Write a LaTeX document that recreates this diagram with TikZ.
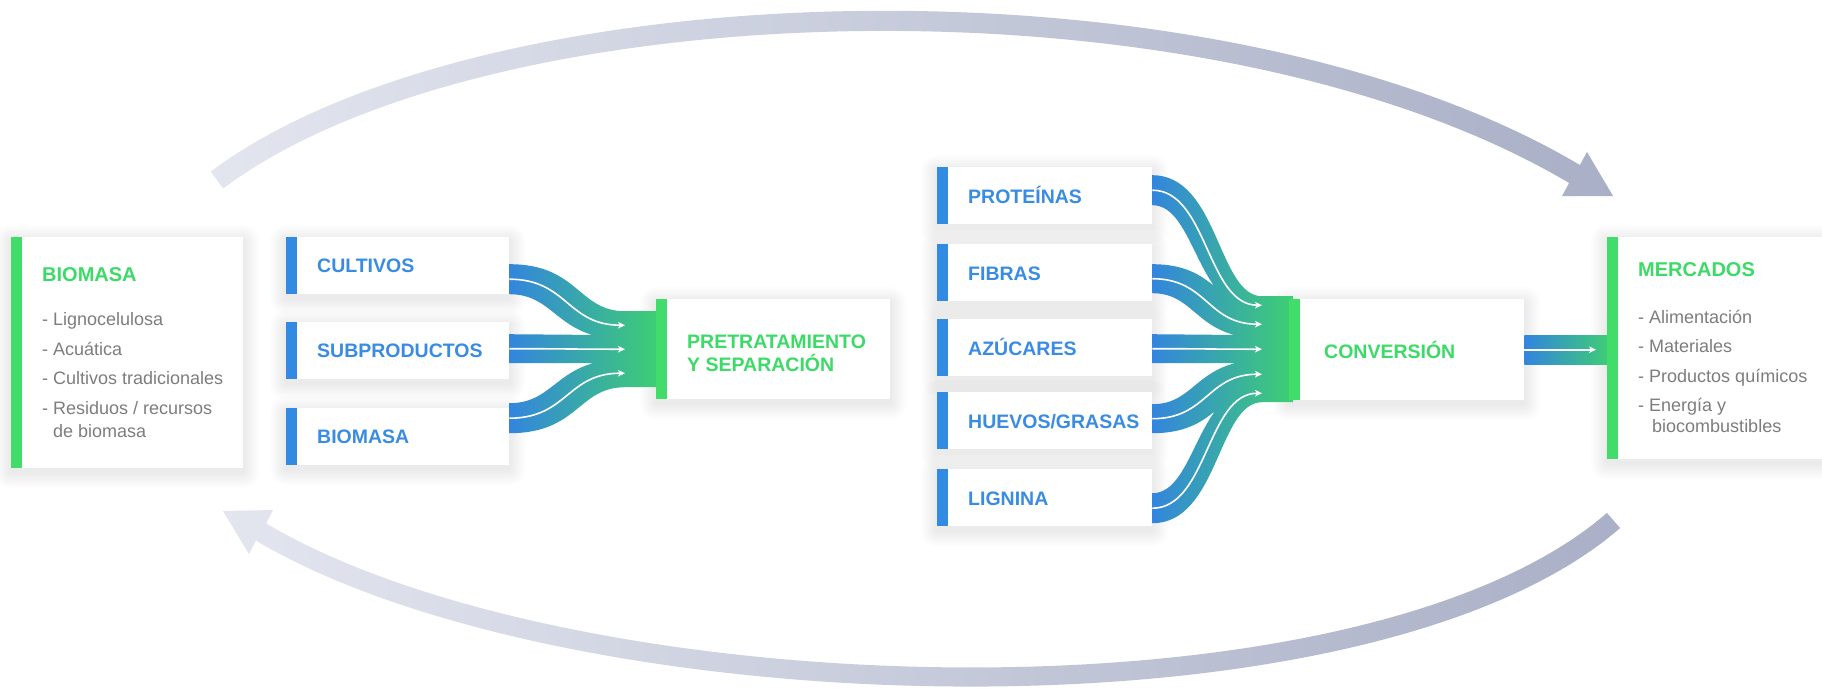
\documentclass[tikz,border=0pt]{standalone}
\usepackage{fontspec}
\setmainfont{Liberation Sans}
\usetikzlibrary{arrows.meta,calc,backgrounds}

\definecolor{flowblue}{HTML}{3385DD}
\definecolor{flowgreen}{HTML}{3ECF72}
\definecolor{barblue}{HTML}{338AE3}
\definecolor{bargreen}{HTML}{41DC69}
\definecolor{labelblue}{HTML}{398CE2}
\definecolor{titlegreen}{HTML}{3CDA67}
\definecolor{listgray}{HTML}{7D7D7D}
\definecolor{cyclelight}{HTML}{E3E6EF}
\definecolor{cycledark}{HTML}{A9AFC6}

\tikzset{
  card/.style={rectangle, fill=white, draw=none, inner sep=0pt, anchor=north west},
  shadowlayer/.style={black, opacity=0.009},
  boldlabel/.style={inner sep=0pt, anchor=west, text height=14pt, text depth=0pt,
    font=\fontsize{19.5}{23}\selectfont\bfseries},
  srclabel/.style={boldlabel, text=labelblue},
  steplabel/.style={boldlabel, text=titlegreen},
  cardtitle/.style={inner sep=0pt, anchor=base west, text=titlegreen,
    font=\fontsize{20}{24}\selectfont\bfseries},
  itemlist/.style={inner sep=0pt, anchor=north west, align=left, text=listgray},
  whiteflow/.style={draw=white, line width=1.6pt,
    -{Stealth[length=7pt,width=6.5pt,inset=2pt]}},
}

% soft drop shadow under a card, built from stacked translucent rectangles
\newcommand\softshadow[1]{%
  \foreach \k [evaluate=\k as \r using \k*1.6] in {1,...,10}{%
    \fill[shadowlayer, rounded corners=\r pt]
      ($(#1.north west)+({-\r},{-\r+4})$) rectangle ($(#1.south east)+({\r},{\r+4})$);
  }%
}

% coloured strip on the left side of a card
\newcommand\cardbar[2]{\fill[#2] (#1.north west) rectangle ($(#1.south west)+(11,0)$);}

% end points of one flow band: prefix, source card, top/bottom offsets,
% target card, top/bottom offsets at the merge, x offset of the merge
\newcommand\flowends[8]{%
  \coordinate (#1-st) at ($(#2.east)+(0,#3)$);
  \coordinate (#1-sb) at ($(#2.east)+(0,#4)$);
  \coordinate (#1-et) at ($(#5.west)+(#8,#6)$);
  \coordinate (#1-eb) at ($(#5.west)+(#8,#7)$);
  \coordinate (#1-s) at ($(#1-st)!.5!(#1-sb)$);
  \coordinate (#1-e) at ($(#1-et)!.5!(#1-eb)$);
}

% outline of one band: prefix, bar coordinate, half run, control shift
\newcommand\bandshape[4]{%
  (#1-st) .. controls +({#3+(#4)},0) and +({-#3+(#4)},0) .. (#1-et)
  -- (#1-et -| #2) -- (#1-eb -| #2) -- (#1-eb)
  .. controls +({-#3-(#4)},0) and +({#3-(#4)},0) .. (#1-sb) -- cycle
}

\begin{document}
\begin{tikzpicture}[x=1pt, y=-1pt]
\useasboundingbox (0,0) rectangle (1822,689);
\begin{pgfonlayer}{background}
  \fill[white] (0,0) rectangle (1822,689);
\end{pgfonlayer}

% ---- cycle arrows -------------------------------------------------------
\begin{scope}
  \clip (210.7,171.6) .. controls (481.1,-31.2) and (1214.3,-51.8) .. (1579.9,165.0)
        -- (1587,152) -- (1613,196) -- (1562,196) -- (1569.1,183.0)
        .. controls (1208.8,-30.6) and (488.3,-10.4) .. (223.3,188.4) -- cycle;
  \shade[left color=cyclelight, right color=cycledark] (205,0) rectangle (1616,200);
\end{scope}
\begin{scope}[shift={(1836,707)}, scale=-1]
  \clip (215.95,178.94) .. controls (471.9,-42.8) and (1269.7,-17.7) .. (1580.1,166.4)
        -- (1587,153) -- (1613,196) -- (1563,197) -- (1569.9,183.6)
        .. controls (1264.0,2.2) and (479.05,-22.5) .. (229.05,194.06) -- cycle;
  \shade[left color=cyclelight, right color=cycledark] (205,0) rectangle (1616,200);
\end{scope}

% ---- cards ---------------------------------------------------------------
\node[card, minimum width=232pt, minimum height=231pt] (biomasaL) at (11,237) {};
\node[card, minimum width=223pt, minimum height=57pt] (cultivos) at (286,237) {};
\node[card, minimum width=223pt, minimum height=57pt] (subprod) at (286,322) {};
\node[card, minimum width=223pt, minimum height=57pt] (biomasaS) at (286,408) {};
\node[card, minimum width=234pt, minimum height=100pt] (pretrat) at (656,299) {};
\node[card, minimum width=215pt, minimum height=57pt] (proteinas) at (937,167) {};
\node[card, minimum width=215pt, minimum height=57pt] (fibras) at (937,244) {};
\node[card, minimum width=215pt, minimum height=57pt] (azucares) at (937,319) {};
\node[card, minimum width=215pt, minimum height=57pt] (huevos) at (937,392) {};
\node[card, minimum width=215pt, minimum height=57pt] (lignina) at (937,469) {};
\node[card, minimum width=235pt, minimum height=101pt] (conversion) at (1289,299) {};
\node[card, minimum width=232pt, minimum height=222pt] (mercados) at (1607,237) {};

\begin{pgfonlayer}{background}
  \foreach \c in {biomasaL,cultivos,subprod,biomasaS,pretrat,proteinas,fibras,
                  azucares,huevos,lignina,conversion,mercados}{\softshadow{\c}}
\end{pgfonlayer}

% ---- flows into pretreatment ----------------------------------------------
\flowends{cu}{cultivos}{-1.5}{28.5}{pretrat}{-38}{-10}{-31}
\flowends{sp}{subprod}{-16.5}{12.5}{pretrat}{-14}{14}{-31}
\flowends{bm}{biomasaS}{-33.5}{-3.5}{pretrat}{10}{38}{-31}
\coordinate (barL) at ($(pretrat.west)+(4,0)$);
\begin{scope}
  \clip \bandshape{cu}{barL}{58}{11} \bandshape{sp}{barL}{58}{0} \bandshape{bm}{barL}{58}{-11};
  \shade[left color=flowblue, right color=flowgreen]
    (cultivos.north east) rectangle (barL |- biomasaS.south);
\end{scope}
\foreach \f in {cu,sp,bm}
  \draw[whiteflow] (\f-s) .. controls +(58,0) and +(-58,0) .. (\f-e);

% ---- flows into conversion -----------------------------------------------
\flowends{pr}{proteinas}{-20.5}{9.5}{conversion}{-53.5}{-35.5}{-27}
\flowends{fi}{fibras}{-8.5}{20.5}{conversion}{-39.5}{-11.5}{-27}
\flowends{az}{azucares}{-13.5}{15.5}{conversion}{-14.5}{13.5}{-27}
\flowends{hu}{huevos}{-16.5}{12.5}{conversion}{10.5}{38.5}{-27}
\flowends{li}{lignina}{-4.5}{25.5}{conversion}{34.5}{52.5}{-27}
\coordinate (barR) at ($(conversion.west)+(4,0)$);
\begin{scope}
  \clip \bandshape{pr}{barR}{55}{11} \bandshape{fi}{barR}{55}{11}
        \bandshape{az}{barR}{55}{0} \bandshape{hu}{barR}{55}{-11}
        \bandshape{li}{barR}{55}{-11};
  \shade[left color=flowblue, right color=flowgreen]
    (proteinas.north east) rectangle (barR |- lignina.south);
\end{scope}
\foreach \f in {pr,fi,az,hu,li}
  \draw[whiteflow] (\f-s) .. controls +(55,0) and +(-55,0) .. (\f-e);

% ---- flow into markets ---------------------------------------------------
\coordinate (cm-t) at ($(conversion.east)+(0,-14.5)$);
\coordinate (cm-b) at ($(conversion.east -| mercados.west)+(4,14.5)$);
\shade[left color=flowblue, right color=flowgreen] (cm-t) rectangle (cm-b);
\draw[whiteflow] (conversion.east) -- ($(conversion.east -| mercados.west)+(-11,0)$);

% ---- card strips -----------------------------------------------------------
\cardbar{biomasaL}{bargreen}
\cardbar{cultivos}{barblue}
\cardbar{subprod}{barblue}
\cardbar{biomasaS}{barblue}
\cardbar{pretrat}{bargreen}
\cardbar{proteinas}{barblue}
\cardbar{fibras}{barblue}
\cardbar{azucares}{barblue}
\cardbar{huevos}{barblue}
\cardbar{lignina}{barblue}
\cardbar{conversion}{bargreen}
\cardbar{mercados}{bargreen}

% ---- texts -----------------------------------------------------------------
\node[cardtitle] (biomasaT) at ($(biomasaL.north west)+(31,44)$) {BIOMASA};
\node[itemlist, font=\fontsize{18}{23}\selectfont] (biomasaI)
  at ($(biomasaL.north west)+(31,75.7)$)
  {- Lignocelulosa\\[6.5pt]- Acuática\\[6.5pt]- Cultivos tradicionales\\[6.5pt]%
   - Residuos / recursos\\\hphantom{- }de biomasa};

\node[srclabel] (cultivosT) at ($(cultivos.west)+(31,0)$) {CULTIVOS};
\node[srclabel] (subprodT) at ($(subprod.west)+(31,0)$) {SUBPRODUCTOS};
\node[srclabel] (biomasaST) at ($(biomasaS.west)+(31,0)$) {BIOMASA};

\node[inner sep=0pt, anchor=north west, align=left, text=titlegreen,
      font=\fontsize{19.5}{23}\selectfont\bfseries] (pretratT)
  at ($(pretrat.north west)+(31,35.3)$) {PRETRATAMIENTO\\Y SEPARACIÓN};

\node[srclabel] (proteinasT) at ($(proteinas.west)+(31,1)$) {PROTEÍNAS};
\node[srclabel] (fibrasT) at ($(fibras.west)+(31,1)$) {FIBRAS};
\node[srclabel] (azucaresT) at ($(azucares.west)+(31,1)$) {AZÚCARES};
\node[srclabel] (huevosT) at ($(huevos.west)+(31,1)$) {HUEVOS/GRASAS};
\node[srclabel] (ligninaT) at ($(lignina.west)+(31,1)$) {LIGNINA};

\node[steplabel] (conversionT) at ($(conversion.west)+(35,1.3)$) {CONVERSIÓN};

\node[cardtitle] (mercadosT) at ($(mercados.north west)+(31,39.7)$) {MERCADOS};
\node[itemlist, font=\fontsize{18}{21}\selectfont] (mercadosI)
  at ($(mercados.north west)+(31,73)$)
  {- Alimentación\\[8.5pt]- Materiales\\[8.5pt]- Productos químicos\\[8.5pt]%
   - Energía y\\\hphantom{- }\,biocombustibles};
\end{tikzpicture}
\end{document}
